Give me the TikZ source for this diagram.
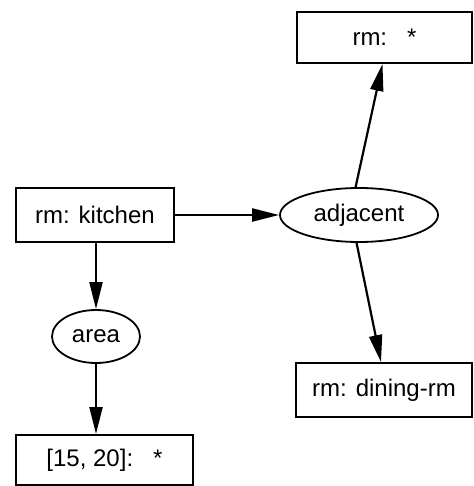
\documentclass[tikz,border=0pt]{standalone}
\usepackage{fontspec}
\setmainfont{Liberation Sans}
\usetikzlibrary{shapes.geometric,arrows.meta}

\begin{document}
\begin{tikzpicture}[
    x=0.5pt, y=-0.5pt,
    every node/.style={font=\fontsize{12}{14}\selectfont},
    box/.style={
        rectangle,
        draw=black,
        line width=1pt,
        minimum width=88pt,
        minimum height=26pt,
        align=center
    },
    relation/.style={
        ellipse,
        draw=black,
        line width=0.9pt,
        inner sep=1pt,
        minimum height=27pt
    },
    arrow/.style={-{Triangle[length=13.5pt,width=6.5pt]}, line width=1.1pt}
]
\useasboundingbox (0,0) rectangle (474,486);

% Nodes with fixed coordinates
\node[box, minimum width=79pt, minimum height=27pt] (kitchen) at (95, 215)    {rm: kitchen};
\node[relation, minimum width=79pt]                 (adjacent) at (359, 215)  {adjacent};
\node[box, minimum width=87.5pt, minimum height=25.5pt] (anyrm) at (384.5, 37.5) {rm:\ \ \ *};
\node[box, minimum height=27pt]                     (dining) at (384, 390)    {rm: dining-rm};
\node[relation, minimum width=44pt, minimum height=26.5pt] (area) at (96, 336.5) {area};
\node[box, minimum width=88.5pt, minimum height=25pt] (range) at (104.5, 460) {[15, 20]:\ \ \ *};

% Arrows
\draw[arrow] (kitchen) -- (adjacent);
\draw[arrow] (adjacent.97) -- ([xshift=-1pt]anyrm.south);
\draw[arrow] (adjacent.-95) -- ([xshift=-1.5pt]dining.north);

\draw[arrow] (kitchen.south -| area.north) -- (area.north);
\draw[arrow] (area.south) -- (area.south |- range.north);

\end{tikzpicture}
\end{document}
